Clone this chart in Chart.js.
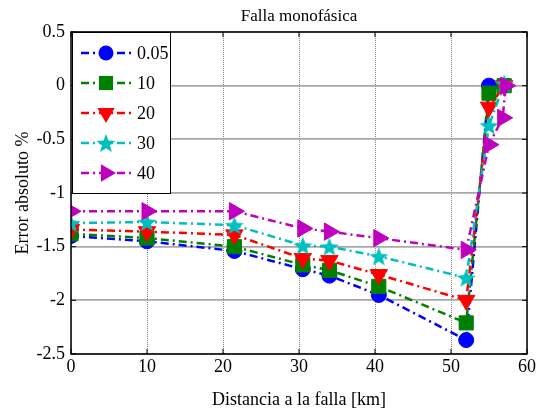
<!DOCTYPE html>
<html>
<head>
<meta charset="utf-8">
<script src="https://cdn.jsdelivr.net/npm/chart.js@4.4.1/dist/chart.umd.min.js"></script>
<style>
  body { margin: 0; background: #fff; }
  #wrap { width: 545px; height: 415px; position: relative; }
</style>
</head>
<body>
<div id="wrap"><canvas id="chart"></canvas></div>
<script>
// Data
const distances = [0, 10, 21.5, 30.5, 34, 40.5, 52, 55, 57];
const distances40 = [0, 10, 21.5, 30.5, 34, 40.5, 52, 55, 56.8, 57.2];
const err005 = [-1.40, -1.45, -1.54, -1.71, -1.77, -1.95, -2.37, 0.00, 0.00];
const err10 = [-1.38, -1.42, -1.50, -1.67, -1.72, -1.87, -2.21, -0.07, 0.00];
const err20 = [-1.34, -1.36, -1.39, -1.61, -1.63, -1.76, -2.00, -0.20, 0.00];
const err30 = [-1.28, -1.27, -1.30, -1.49, -1.50, -1.59, -1.79, -0.37, 0.02];
const err40 = [-1.17, -1.17, -1.17, -1.33, -1.36, -1.42, -1.53, -0.55, -0.30, 0.00];
const seriesLabels = ['0.05', '10', '20', '30', '40'];
const yTickLabels = ['-2.5', '-2', '-1.5', '-1', '-0.5', '0', '0.5'];
const xTickLabels = ['0', '10', '20', '30', '40', '50', '60'];

const serif = "'Liberation Serif', 'Times New Roman', serif";
const colors = ['#0000ff', '#008000', '#ff0000', '#00bfbf', '#bf00bf'];
const dash = [8, 4, 2, 4];

// filled five point star for the 30 series
function makeStar(color, size) {
    const c = document.createElement('canvas');
    c.width = size; c.height = size;
    const g = c.getContext('2d');
    const cx = size / 2, cy = size / 2 + 1, ro = size / 2, ri = ro * 0.42;
    g.beginPath();
    for (let i = 0; i < 10; i++) {
        const r = i % 2 ? ri : ro;
        const a = -Math.PI / 2 + i * Math.PI / 5;
        g.lineTo(cx + r * Math.cos(a), cy + r * Math.sin(a));
    }
    g.closePath();
    g.fillStyle = color;
    g.fill();
    return c;
}
const starImg = makeStar(colors[3], 20);

const markers = [
    { pointStyle: 'circle', rotation: 0, radius: 7.5 },
    { pointStyle: 'rect', rotation: 0, radius: 10 },
    { pointStyle: 'triangle', rotation: 180, radius: 10 },
    { pointStyle: starImg, rotation: 0, radius: 10 },
    { pointStyle: 'triangle', rotation: 90, radius: 10 }
];

const xs = [distances, distances, distances, distances, distances40];
const ys = [err005, err10, err20, err30, err40];

const datasets = ys.map((vals, i) => ({
    label: seriesLabels[i],
    data: vals.map((v, k) => ({ x: xs[i][k], y: v })),
    borderColor: colors[i],
    backgroundColor: colors[i],
    borderWidth: 2.5,
    borderDash: dash,
    pointStyle: markers[i].pointStyle,
    rotation: markers[i].rotation,
    pointRadius: markers[i].radius,
    pointBorderWidth: 1,
    order: 5 - i,
    tension: 0
}));

// box, inward ticks, title and legend like MATLAB
const matlabDecor = {
    id: 'matlabDecor',
    afterDraw(chart) {
        const ctx = chart.ctx;
        const a = chart.chartArea;
        const xs = chart.scales.x, ys = chart.scales.y;
        ctx.save();
        ctx.strokeStyle = '#000';
        ctx.lineWidth = 1.5;
        ctx.strokeRect(a.left, a.top, a.right - a.left, a.bottom - a.top);
        ctx.lineWidth = 1;
        ctx.beginPath();
        for (let v = 0; v <= 60; v += 10) {
            const px = xs.getPixelForValue(v);
            ctx.moveTo(px, a.bottom); ctx.lineTo(px, a.bottom - 5);
            ctx.moveTo(px, a.top); ctx.lineTo(px, a.top + 5);
        }
        for (let v = -2.5; v <= 0.5; v += 0.5) {
            const py = ys.getPixelForValue(v);
            ctx.moveTo(a.left, py); ctx.lineTo(a.left + 5, py);
            ctx.moveTo(a.right, py); ctx.lineTo(a.right - 5, py);
        }
        ctx.stroke();

        // title
        ctx.fillStyle = '#000';
        ctx.font = '17px ' + serif;
        ctx.textAlign = 'center';
        ctx.textBaseline = 'middle';
        ctx.fillText('Falla monofásica', (a.left + a.right) / 2, 17);

        // legend
        const lx = a.left + 1, ly = a.top, lw = 98, lh = 161;
        ctx.fillStyle = '#fff';
        ctx.fillRect(lx, ly, lw, lh);
        ctx.strokeStyle = '#000';
        ctx.lineWidth = 1;
        ctx.strokeRect(lx + 0.5, ly + 0.5, lw, lh);
        for (let i = 0; i < seriesLabels.length; i++) {
            const yy = ly + 21 + i * 30;
            ctx.strokeStyle = colors[i];
            ctx.lineWidth = 2.5;
            ctx.setLineDash(dash);
            ctx.beginPath();
            ctx.moveTo(lx + 9, yy); ctx.lineTo(lx + 59, yy);
            ctx.stroke();
            ctx.setLineDash([]);
            ctx.fillStyle = colors[i];
            ctx.strokeStyle = colors[i];
            ctx.lineWidth = 1;
            Chart.helpers.drawPoint(ctx, {
                pointStyle: markers[i].pointStyle,
                rotation: markers[i].rotation,
                radius: markers[i].radius
            }, lx + 34, yy);
            ctx.fillStyle = '#000';
            ctx.font = '18px ' + serif;
            ctx.textAlign = 'left';
            ctx.fillText(seriesLabels[i], lx + 65, yy + 1);
        }
        ctx.restore();
    }
};

new Chart(document.getElementById('chart'), {
    type: 'line',
    data: { datasets },
    options: {
        responsive: true,
        maintainAspectRatio: false,
        animation: false,
        layout: { padding: { top: 32, right: 18, left: 0, bottom: 0 } },
        plugins: {
            legend: { display: false },
            tooltip: { enabled: false },
            title: { display: false }
        },
        scales: {
            x: {
                type: 'linear',
                min: 0, max: 60,
                afterFit: s => { s.height = 61; },
                afterBuildTicks: s => { s.ticks = xTickLabels.map(t => ({ value: Number(t) })); },
                grid: { color: '#666', lineWidth: 0.8, drawTicks: false },
                border: { display: false, dash: [1, 1] },
                ticks: {
                    padding: 2,
                    color: '#000',
                    font: { family: serif, size: 18 },
                    callback: (v) => xTickLabels[xTickLabels.indexOf(String(v))] ?? ''
                },
                title: {
                    display: true,
                    text: 'Distancia a la falla [km]',
                    color: '#000',
                    font: { family: serif, size: 18 },
                    padding: { top: 0, bottom: 4 }
                }
            },
            y: {
                min: -2.5, max: 0.5,
                afterFit: s => { s.width = 71; },
                afterBuildTicks: s => { s.ticks = yTickLabels.map(t => ({ value: Number(t) })); },
                grid: { color: '#a8a8a8', lineWidth: 1.8, drawTicks: false },
                border: { display: false },
                ticks: {
                    padding: 6,
                    color: '#000',
                    font: { family: serif, size: 18 },
                    callback: (v) => yTickLabels[yTickLabels.indexOf(String(v))] ?? ''
                },
                title: {
                    display: true,
                    text: 'Error absoluto %',
                    color: '#000',
                    font: { family: serif, size: 18 },
                    padding: { top: 12, bottom: 0 }
                }
            }
        }
    },
    plugins: [matlabDecor]
});
</script>
</body>
</html>
